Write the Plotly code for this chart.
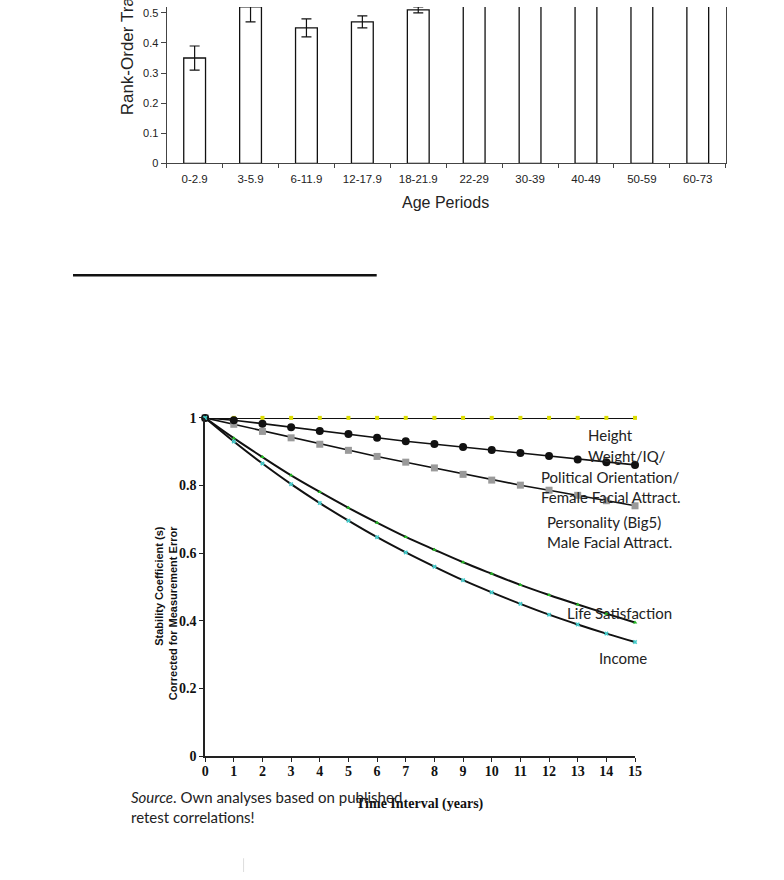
import plotly.graph_objects as go

W, H = 784, 880

# ---------- top chart data (rank-order consistency by age period) ----------
age_periods = ["0-2.9", "3-5.9", "6-11.9", "12-17.9", "18-21.9",
               "22-29", "30-39", "40-49", "50-59", "60-73"]
consistency = [0.35, 0.52, 0.45, 0.47, 0.51, 0.57, 0.62, 0.59, 0.75, 0.72]
consistency_err = [0.04, 0.05, 0.03, 0.02, 0.01, 0.02, 0.02, 0.02, 0.03, 0.03]

# ---------- bottom chart data (stability coefficients) ----------
years = list(range(0, 16))
height = [1.0] * 16
weight_iq = [1.0, 0.993, 0.983, 0.972, 0.961, 0.952, 0.941, 0.931, 0.923,
             0.914, 0.905, 0.896, 0.887, 0.877, 0.869, 0.861]
personality = [1.0, 0.981, 0.960, 0.941, 0.922, 0.904, 0.886, 0.869, 0.852,
               0.833, 0.816, 0.801, 0.786, 0.771, 0.755, 0.740]
life_sat = [1.0, 0.940, 0.884, 0.830, 0.781, 0.734, 0.690, 0.648, 0.610,
            0.573, 0.539, 0.506, 0.476, 0.448, 0.421, 0.395]
income = [1.0, 0.930, 0.865, 0.804, 0.748, 0.696, 0.647, 0.602, 0.560,
          0.520, 0.484, 0.450, 0.418, 0.389, 0.362, 0.337]


def px(x):
    return x / W


def py(y):
    return 1 - y / H


fig = go.Figure()

# top bar chart
fig.add_trace(go.Bar(
    x=age_periods, y=consistency, width=0.39,
    marker=dict(color="white", line=dict(color="#111", width=1.3)),
    error_y=dict(type="data", array=consistency_err, color="#111", thickness=1.2, width=5),
    xaxis="x", yaxis="y", showlegend=False,
))

# bottom line chart
fig.add_trace(go.Scatter(
    x=years, y=height, mode="lines+markers", xaxis="x2", yaxis="y2",
    line=dict(color="#111", width=2),
    marker=dict(symbol="square", size=4, color="#dddd00"),
    cliponaxis=False, showlegend=False))
fig.add_trace(go.Scatter(
    x=years, y=personality, mode="lines+markers", xaxis="x2", yaxis="y2",
    line=dict(color="#111", width=1.6),
    marker=dict(symbol="square", size=7, color="#9a9a9a"),
    cliponaxis=False, showlegend=False))
fig.add_trace(go.Scatter(
    x=years, y=weight_iq, mode="lines+markers", xaxis="x2", yaxis="y2",
    line=dict(color="#111", width=1.6),
    marker=dict(symbol="circle", size=8, color="#111"),
    cliponaxis=False, showlegend=False))
fig.add_trace(go.Scatter(
    x=years, y=life_sat, mode="lines+markers", xaxis="x2", yaxis="y2",
    line=dict(color="#111", width=2, shape="spline"),
    marker=dict(symbol="triangle-up", size=4, color="#22bb22"),
    cliponaxis=False, showlegend=False))
fig.add_trace(go.Scatter(
    x=years, y=income, mode="lines+markers", xaxis="x2", yaxis="y2",
    line=dict(color="#111", width=2, shape="spline"),
    marker=dict(symbol="x", size=4, color="#44cccc"),
    cliponaxis=False, showlegend=False))

sans = "Liberation Sans, Arial, sans-serif"
serif = "Liberation Serif, Times New Roman, serif"
calib = "Lato, Carlito, Calibri, sans-serif"

fig.update_layout(
    width=W, height=H,
    margin=dict(l=0, r=0, t=0, b=0),
    paper_bgcolor="white", plot_bgcolor="white",
    xaxis=dict(
        domain=[px(165), px(732)], anchor="y", type="category",
        showline=True, linecolor="#444", linewidth=1.2,
        ticks="outside", tickson="boundaries", ticklen=4, tickcolor="#444",
        ticklabelstandoff=5,
        tickfont=dict(family=sans, size=11.5, color="#222"),
        showgrid=False, zeroline=False,
    ),
    yaxis=dict(
        domain=[py(159), 1.0], anchor="x", range=[0, 0.5196], dtick=0.1,
        showline=True, linecolor="#444", linewidth=1.2, mirror=True,
        ticks="outside", ticklen=5, tickcolor="#444",
        tickfont=dict(family=sans, size=11, color="#222"),
        showgrid=False, zeroline=False,
    ),
    xaxis2=dict(
        domain=[px(204), px(640)], anchor="y2", range=[0, 15],
        tickmode="array", tickvals=years,
        showline=True, linecolor="#222", linewidth=1.5,
        ticks="outside", ticklen=4, tickcolor="#222",
        ticklabelstandoff=-3,
        tickfont=dict(family=serif, size=14, color="#111", weight="bold"),
        showgrid=False, zeroline=False,
    ),
    yaxis2=dict(
        domain=[py(762), py(418)], anchor="x2", range=[0, 1], dtick=0.2,
        showline=True, linecolor="#222", linewidth=1.5,
        ticks="outside", ticklen=4, tickcolor="#222",
        tickfont=dict(family=serif, size=14, color="#111", weight="bold"),
        showgrid=False, zeroline=False,
    ),
)

annots = [
    dict(text="Rank-Order Trait Consistency", x=px(125), y=py(112), xanchor="center",
         yanchor="bottom", textangle=-90, font=dict(family=sans, size=17, color="#222")),
    dict(text="Age Periods", x=px(448), y=py(199), xanchor="center", yanchor="middle",
         font=dict(family=sans, size=16, color="#222")),
    dict(text="<b>Stability Coefficient (s)<br>Corrected for Measurement Error</b>",
         x=px(165), y=py(617), xanchor="center", yanchor="middle", textangle=-90,
         align="right", font=dict(family=sans, size=11, color="#111")),
    dict(text="<b>Time Interval (years)</b>", x=px(422), y=py(811), xanchor="center",
         yanchor="middle", font=dict(family=serif, size=14, color="#111")),
]

labels = [
    ("Height", 590, 435),
    ("Weight/IQ/", 590, 457),
    ("Political Orientation/", 543, 478),
    ("Female Facial Attract.", 543, 498),
    ("Personality (Big5)", 549, 524),
    ("Male Facial Attract.", 549, 544),
    ("Life Satisfaction", 569, 616),
    ("Income", 601, 662),
]
for t, x, y in labels:
    annots.append(dict(text=t, x=px(x), y=py(y), xanchor="left", yanchor="middle",
                       font=dict(family=calib, size=15, color="#222")))

annots.append(dict(text="<i>Source</i>. Own analyses based on published", x=px(127), y=py(804),
                   xanchor="left", yanchor="middle", font=dict(family=calib, size=15, color="#222")))
annots.append(dict(text="retest correlations!", x=px(127), y=py(824),
                   xanchor="left", yanchor="middle", font=dict(family=calib, size=15, color="#222")))

for a in annots:
    a.update(xref="paper", yref="paper", showarrow=False)
fig.update_layout(annotations=annots)

fig.update_layout(shapes=[
    dict(type="line", xref="paper", yref="paper", x0=px(70), x1=px(378), y0=py(273), y1=py(273),
         line=dict(color="#111", width=2.5)),
    dict(type="line", xref="paper", yref="paper", x0=px(243), x1=px(243), y0=py(866), y1=py(880),
         line=dict(color="#dddddd", width=1)),
])

fig.write_html("out.html", config={"displayModeBar": False},
               post_script="document.body.style.margin='0';document.body.style.overflow='hidden';")
